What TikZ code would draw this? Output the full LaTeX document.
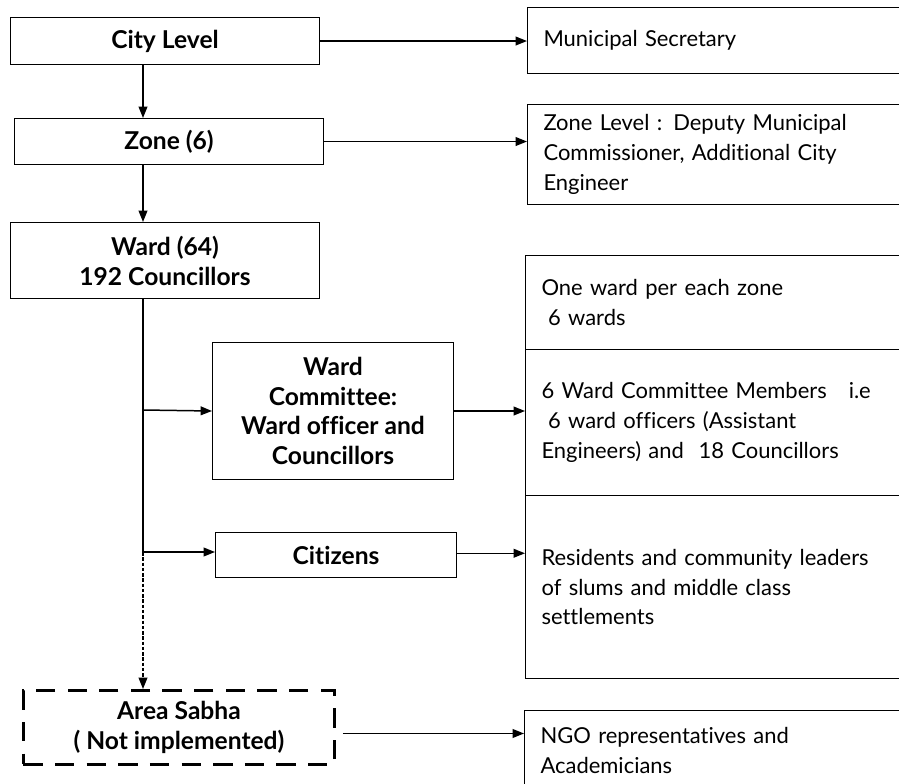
\documentclass[tikz,border=0pt]{standalone}
\usepackage{fontspec}
\setmainfont{Lato}[Ligatures={NoCommon}]
\usetikzlibrary{arrows.meta}
\tikzset{%
  levelbox/.style={rectangle, draw=black, line width=0.6pt, font=\fontsize{14}{17}\selectfont\bfseries, align=center, anchor=north west, inner sep=2pt},
  notebox/.style={rectangle, draw=black, line width=0.6pt, align=left, text width=8cm, inner xsep=0.32cm, anchor=north west},
  flowedge/.style={->, line width=0.85pt, >={Triangle[length=6.5pt,width=5pt]}},
  plainedge/.style={line width=0.85pt}
}

\begin{document}
\fontsize{12.5}{17}\selectfont
\begin{tikzpicture}[x=0.02cm, y=-0.02cm]
  \useasboundingbox (0,0) rectangle (899,784);
  \clip (0,0) rectangle (899,784);
  % left column
  \node[levelbox, minimum width=6.18cm, minimum height=0.94cm] (city) at (10,17) {City Level};
  \node[levelbox, minimum width=6.18cm, minimum height=0.92cm] (zone) at (14,118) {Zone (6)};
  \node[levelbox, minimum width=6.18cm, minimum height=1.52cm] (ward) at (10,222) {Ward (64)\\192 Councillors};
  \node[levelbox, minimum width=4.82cm, minimum height=2.74cm] (wcom) at (212,342) {Ward\\Committee:\\Ward officer and\\Councillors};
  \node[levelbox, minimum width=4.82cm, minimum height=0.9cm] (cit) at (215,532) {Citizens};
  \node[levelbox, minimum width=6.22cm, minimum height=1.48cm, line width=1.7pt, dash pattern=on 11pt off 7pt] (sabha) at (22,689) {Area Sabha\\( Not implemented)};
  % right column
  \node[notebox, minimum height=1.32cm] (msec) at (527,7) {Municipal Secretary};
  \node[notebox, minimum height=2.0cm] (zlev) at (527,104) {Zone Level\ : Deputy Municipal\\Commissioner, Additional City\\Engineer};
  \node[notebox, minimum height=1.88cm] (wnote) at (525,255) {One ward per each zone\\\hspace*{0.3em}6 wards};
  \node[notebox, minimum height=2.92cm] (wcnote) at (525,349) {6 Ward Committee Members\quad i.e\\\hspace*{0.3em}6 ward officers (Assistant\\Engineers) and\ \ 18 Councillors};
  \node[notebox, minimum height=3.66cm] (citnote) at (525,495) {Residents and community leaders\\of slums and middle class\\settlements};
  \node[notebox, minimum height=1.6cm] (ngo) at (524,710) {NGO representatives and\\Academicians};
  % trunk
  \coordinate (wj1) at (143,410);
  \coordinate (wj2) at (143,552);
  \draw [flowedge] (city.south -| wj1) -- (zone.north -| wj1);
  \draw [flowedge] (zone.south -| wj1) -- (ward.north -| wj1);
  \draw [plainedge] (ward.south -| wj1) -- (wj2);
  \draw [flowedge, dash pattern=on 2pt off 1pt] (wj2) -- (sabha.north -| wj2);
  \draw [flowedge] (wj1) -- (wcom.west);
  \draw [flowedge] (wj2) -- (wj2 -| cit.west);
  % to the notes
  \draw [flowedge] (city.east) -- (city.east -| msec.west);
  \draw [flowedge] (zone.east) -- (zone.east -| zlev.west);
  \draw [flowedge] (wcom.east) -- (wcom.east -| wcnote.west);
  \draw [flowedge] ([yshift=1pt]cit.east) -- ([yshift=1pt]cit.east -| citnote.west);
  \draw [flowedge, shorten <=4pt] ([yshift=-0.12cm]sabha.east) -- ([yshift=-0.12cm]sabha.east -| ngo.west);
\end{tikzpicture}
\end{document}
